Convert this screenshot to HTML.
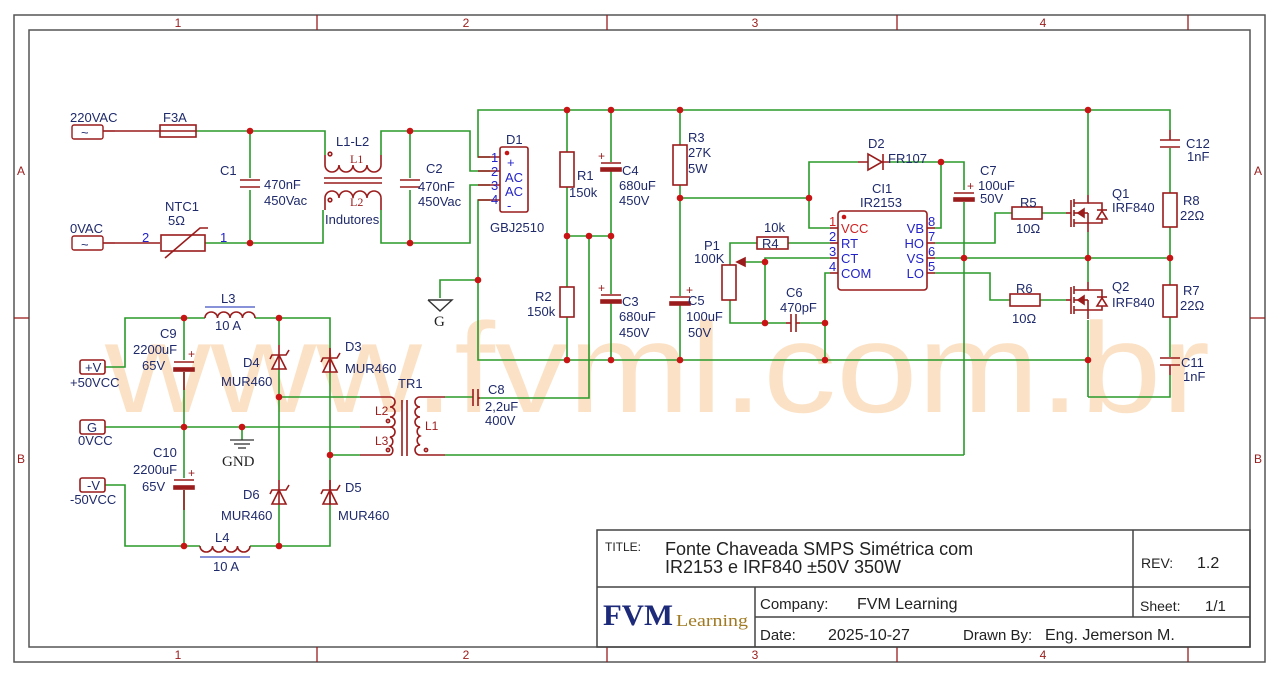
<!DOCTYPE html>
<html><head><meta charset="utf-8"><style>
html,body{margin:0;padding:0;background:#fff;}
svg{display:block;}
text{font-family:"Liberation Sans",sans-serif;}
.l{fill:#1f2a6b;font-size:13px;}
.p{fill:#2323c8;font-size:13px;}
.w{stroke:#2a9a2a;stroke-width:1.6;fill:none;}
.c{stroke:#9a1c1c;stroke-width:1.6;fill:none;}
.cf{stroke:#9a1c1c;stroke-width:1.6;fill:#fff;}
.n{fill:#c81414;}
.f{fill:#9a1c1c;font-size:12px;}
.t{font-family:"DejaVu Sans",sans-serif;fill:#222;}
</style></head><body>
<svg width="1280" height="677" viewBox="0 0 1280 677" xmlns="http://www.w3.org/2000/svg">
<!-- watermark -->
<text x="105" y="412" font-size="128" fill="#fbe2c6" style="font-family:'Liberation Sans',sans-serif" textLength="1105" lengthAdjust="spacingAndGlyphs">www.fvml.com.br</text>

<!-- frame -->
<rect x="14" y="15" width="1251" height="647" fill="none" stroke="#555" stroke-width="1.5"/>
<rect x="29" y="30" width="1221" height="617" fill="none" stroke="#555" stroke-width="1.5"/>
<g stroke="#9a1c1c" stroke-width="1.3">
<line x1="317" y1="15" x2="317" y2="30"/><line x1="607" y1="15" x2="607" y2="30"/><line x1="897" y1="15" x2="897" y2="30"/><line x1="1188" y1="15" x2="1188" y2="30"/>
<line x1="317" y1="647" x2="317" y2="662"/><line x1="607" y1="647" x2="607" y2="662"/><line x1="897" y1="647" x2="897" y2="662"/><line x1="1188" y1="647" x2="1188" y2="662"/>
<line x1="14" y1="318" x2="29" y2="318"/><line x1="1250" y1="318" x2="1265" y2="318"/>
</g>
<g class="f" font-size="12" text-anchor="middle">
<text x="178" y="27">1</text><text x="466" y="27">2</text><text x="755" y="27">3</text><text x="1043" y="27">4</text>
<text x="178" y="659">1</text><text x="466" y="659">2</text><text x="755" y="659">3</text><text x="1043" y="659">4</text>
<text x="21" y="175">A</text><text x="21" y="463">B</text><text x="1258" y="175">A</text><text x="1258" y="463">B</text>
</g>

<!-- ===== INPUT ===== -->
<g class="w">
<polyline points="196,131 325,131 325,155"/>
<polyline points="381,155 381,131 470,131 470,171 490,171"/>
<polyline points="205,243 323,243 323,210"/>
<polyline points="381,210 381,243 470,243 470,185 490,185"/>
<line x1="250" y1="131" x2="250" y2="178"/><line x1="250" y1="190" x2="250" y2="243"/>
<line x1="410" y1="131" x2="410" y2="178"/><line x1="410" y1="190" x2="410" y2="243"/>
<polyline points="490,157 478,157 478,110 1170,110 1170,130"/>
<polyline points="490,200 478,200 478,360 1088,360"/>
<polyline points="478,280 440,280 440,298"/>
</g>
<g class="c">
<line x1="103" y1="131" x2="115" y2="131"/><line x1="103" y1="243" x2="115" y2="243"/>
<line x1="115" y1="243" x2="160" y2="243"/>
<line x1="115" y1="131" x2="160" y2="131"/>
<rect x="160" y="125" width="36" height="12"/><line x1="160" y1="131" x2="196" y2="131"/>
<rect x="161" y="235" width="44" height="16"/><polyline points="165,258 200,228 208,228"/>
<line x1="240" y1="180" x2="260" y2="180"/><line x1="240" y1="187" x2="260" y2="187"/>
<line x1="400" y1="180" x2="420" y2="180"/><line x1="400" y1="187" x2="420" y2="187"/>
<path d="M325,155 v10 a7,7 0 0 0 14,0 a7,7 0 0 0 14,0 a7,7 0 0 0 14,0 a7,7 0 0 0 14,0 v-10"/>
<path d="M325,210 v-12 a7,7 0 0 1 14,0 a7,7 0 0 1 14,0 a7,7 0 0 1 14,0 a7,7 0 0 1 14,0 v12"/>
<line x1="324" y1="178" x2="382" y2="178"/><line x1="324" y1="183" x2="382" y2="183"/>
<rect x="500" y="147" width="28" height="65" rx="2"/>
<line x1="478" y1="157" x2="500" y2="157"/><line x1="478" y1="171" x2="500" y2="171"/><line x1="478" y1="185" x2="500" y2="185"/><line x1="478" y1="200" x2="500" y2="200"/>
<circle cx="330" cy="154" r="1.8"/><circle cx="330" cy="200" r="1.8"/>
</g>
<circle cx="507" cy="153" r="2.3" class="n"/>
<g stroke="#222" stroke-width="1.4" fill="none"><rect x="72" y="125" width="31" height="14" rx="2" stroke="#9a1c1c"/><rect x="72" y="236" width="31" height="14" rx="2" stroke="#9a1c1c"/>
<polyline points="428,300 452,300 440,311 428,300" stroke="#333"/></g>
<g class="l">
<text x="81" y="137">~</text><text x="81" y="249">~</text>
<text x="70" y="122">220VAC</text><text x="163" y="122">F3A</text><text x="70" y="233">0VAC</text>
<text x="165" y="211">NTC1</text><text x="168" y="225">5Ω</text>
<text x="220" y="175">C1</text><text x="264" y="189">470nF</text><text x="264" y="205">450Vac</text>
<text x="336" y="146">L1-L2</text><text x="325" y="224">Indutores</text>
<text x="426" y="173">C2</text><text x="418" y="191">470nF</text><text x="418" y="206">450Vac</text>
<text x="506" y="144">D1</text><text x="490" y="232">GBJ2510</text>
<text x="507" y="167" class="p">+</text><text x="505" y="182" class="p">AC</text><text x="505" y="196" class="p">AC</text><text x="507" y="210" class="p">-</text>
</g>
<g class="p"><text x="142" y="242">2</text><text x="220" y="242">1</text>
<text x="491" y="162">1</text><text x="491" y="176">2</text><text x="491" y="190">3</text><text x="491" y="204">4</text></g>
<text x="350" y="163" class="f" font-size="8" style="font-family:'Liberation Serif',serif">L1</text>
<text x="350" y="206" class="f" font-size="8" style="font-family:'Liberation Serif',serif">L2</text>
<text x="434" y="326" font-size="15" fill="#222" style="font-family:'Liberation Serif',serif">G</text>

<!-- ===== BULK / RAIL ===== -->
<g class="w">
<line x1="567" y1="110" x2="567" y2="152"/><line x1="567" y1="187" x2="567" y2="287"/><line x1="567" y1="317" x2="567" y2="360"/>
<line x1="611" y1="110" x2="611" y2="162"/><line x1="611" y1="170" x2="611" y2="294"/><line x1="611" y1="302" x2="611" y2="360"/>
<line x1="567" y1="236" x2="611" y2="236"/>
<polyline points="589,236 589,398 480,398"/>
<line x1="680" y1="110" x2="680" y2="145"/><line x1="680" y1="185" x2="680" y2="296"/><line x1="680" y1="304" x2="680" y2="360"/>
<polyline points="680,198 809,198 809,228 830,228"/>
<polyline points="809,198 809,162 858,162"/>
<polyline points="890,162 964,162 964,190"/>
<polyline points="941,162 941,228 935,228"/>
<line x1="964" y1="202" x2="964" y2="455"/>
</g>
<g class="c">
<rect x="560" y="152" width="14" height="35"/><rect x="560" y="287" width="14" height="30"/>
<line x1="601" y1="163" x2="621" y2="163"/><rect x="601" y="168" width="20" height="3" fill="#9a1c1c"/>
<line x1="601" y1="295" x2="621" y2="295"/><rect x="601" y="300" width="20" height="3" fill="#9a1c1c"/>
<rect x="673" y="145" width="14" height="40"/>
<line x1="670" y1="297" x2="690" y2="297"/><rect x="670" y="302" width="20" height="3" fill="#9a1c1c"/>
<line x1="954" y1="193" x2="974" y2="193"/><rect x="954" y="198" width="20" height="3" fill="#9a1c1c"/>
<line x1="858" y1="162" x2="890" y2="162"/><polygon points="868,154 868,170 882,162" fill="#fff"/><line x1="883" y1="154" x2="883" y2="170"/>
</g>
<g class="f" font-size="10"><text x="598" y="160">+</text><text x="598" y="292">+</text><text x="686" y="294">+</text><text x="967" y="190">+</text></g>
<g class="l">
<text x="577" y="180">R1</text><text x="569" y="197">150k</text><text x="535" y="301">R2</text><text x="527" y="316">150k</text>
<text x="622" y="175">C4</text><text x="619" y="190">680uF</text><text x="619" y="205">450V</text>
<text x="622" y="306">C3</text><text x="619" y="321">680uF</text><text x="619" y="337">450V</text>
<text x="688" y="142">R3</text><text x="688" y="157">27K</text><text x="688" y="173">5W</text>
<text x="688" y="305">C5</text><text x="686" y="321">100uF</text><text x="688" y="337">50V</text>
<text x="868" y="148">D2</text><text x="888" y="163">FR107</text>
<text x="980" y="175">C7</text><text x="978" y="190">100uF</text><text x="980" y="203">50V</text>
</g>

<!-- ===== IC ===== -->
<g class="w">
<polyline points="830,243 788,243"/><polyline points="757,243 730,243 730,265"/>
<polyline points="730,300 730,323 786,323"/>
<polyline points="830,258 765,258 765,323"/>
<line x1="740" y1="262" x2="765" y2="262"/>
<polyline points="800,323 825,323"/><polyline points="830,273 825,273 825,360"/>
<polyline points="935,243 995,243 995,213 1012,213"/><line x1="1042" y1="213" x2="1066" y2="213"/>
<polyline points="935,258 1170,258"/>
<polyline points="935,273 990,273 990,300 1010,300"/><line x1="1040" y1="300" x2="1066" y2="300"/>
</g>
<g class="c">
<rect x="838" y="211" width="89" height="79" rx="3"/>
<line x1="830" y1="228" x2="838" y2="228"/><line x1="830" y1="243" x2="838" y2="243"/><line x1="830" y1="258" x2="838" y2="258"/><line x1="830" y1="273" x2="838" y2="273"/>
<line x1="927" y1="228" x2="935" y2="228"/><line x1="927" y1="243" x2="935" y2="243"/><line x1="927" y1="258" x2="935" y2="258"/><line x1="927" y1="273" x2="935" y2="273"/>
<rect x="757" y="237" width="31" height="12"/>
<rect x="722" y="265" width="14" height="35"/><polygon points="737,262 745,258 745,266" fill="#9a1c1c"/>
<line x1="786" y1="323" x2="791" y2="323"/><line x1="791" y1="314" x2="791" y2="332"/><line x1="796" y1="314" x2="796" y2="332"/><line x1="796" y1="323" x2="800" y2="323"/>
<rect x="1012" y="207" width="30" height="12"/><rect x="1010" y="294" width="30" height="12"/>
</g>
<circle cx="844" cy="217" r="2.3" class="n"/>
<g class="l">
<text x="872" y="193">CI1</text><text x="860" y="207">IR2153</text>
<text x="841" y="233" fill="#d02020">VCC</text><text x="841" y="248" class="p">RT</text><text x="841" y="263" class="p">CT</text><text x="841" y="278" class="p">COM</text>
<text x="924" y="233" class="p" text-anchor="end">VB</text><text x="924" y="248" class="p" text-anchor="end">HO</text><text x="924" y="263" class="p" text-anchor="end">VS</text><text x="924" y="278" class="p" text-anchor="end">LO</text>
<text x="764" y="232">10k</text><text x="762" y="248">R4</text>
<text x="704" y="250">P1</text><text x="694" y="263">100K</text>
<text x="786" y="297">C6</text><text x="780" y="312">470pF</text>
<text x="1020" y="207">R5</text><text x="1016" y="233">10Ω</text>
<text x="1016" y="293">R6</text><text x="1012" y="323">10Ω</text>
</g>
<g class="p"><text x="829" y="226" fill="#d02020">1</text><text x="829" y="241">2</text><text x="829" y="256">3</text><text x="829" y="271">4</text>
<text x="928" y="226">8</text><text x="928" y="241">7</text><text x="928" y="256">6</text><text x="928" y="271">5</text></g>

<!-- ===== MOSFETS ===== -->
<g class="w">
<line x1="1088" y1="110" x2="1088" y2="195"/><line x1="1088" y1="232" x2="1088" y2="282"/><line x1="1088" y1="320" x2="1088" y2="397"/>
<polyline points="1088,397 1170,397 1170,375"/>
<line x1="1170" y1="148" x2="1170" y2="193"/><line x1="1170" y1="227" x2="1170" y2="285"/><line x1="1170" y1="317" x2="1170" y2="357"/>
</g>
<g class="c">
<g id="q1">
<line x1="1066" y1="213" x2="1071" y2="213"/><line x1="1071" y1="200" x2="1071" y2="227"/>
<line x1="1074" y1="199" x2="1074" y2="207"/><line x1="1074" y1="210" x2="1074" y2="216"/><line x1="1074" y1="219" x2="1074" y2="227"/>
<polyline points="1074,203 1088,203 1088,195"/><polyline points="1074,223 1088,223 1088,232"/><line x1="1074" y1="213" x2="1088" y2="213"/><line x1="1088" y1="213" x2="1088" y2="223"/>
<polygon points="1078,213 1084,209 1084,217" fill="#9a1c1c"/>
<polyline points="1088,203 1102,203 1102,223 1088,223"/><polygon points="1097,219 1107,219 1102,211" fill="#fff"/><line x1="1097" y1="210" x2="1107" y2="210"/>
</g>
<use href="#q1" y="87"/>
<line x1="1160" y1="140" x2="1180" y2="140"/><line x1="1160" y1="147" x2="1180" y2="147"/><line x1="1170" y1="130" x2="1170" y2="140"/>
<rect x="1163" y="193" width="14" height="34"/><rect x="1163" y="285" width="14" height="32"/>
<line x1="1160" y1="358" x2="1180" y2="358"/><line x1="1160" y1="365" x2="1180" y2="365"/><line x1="1170" y1="365" x2="1170" y2="375"/>
</g>
<g class="l">
<text x="1112" y="198">Q1</text><text x="1112" y="212">IRF840</text><text x="1112" y="291">Q2</text><text x="1112" y="307">IRF840</text>
<text x="1186" y="148">C12</text><text x="1187" y="161">1nF</text><text x="1183" y="205">R8</text><text x="1180" y="220">22Ω</text>
<text x="1183" y="295">R7</text><text x="1180" y="310">22Ω</text><text x="1181" y="367">C11</text><text x="1183" y="381">1nF</text>
</g>

<!-- ===== OUTPUT ===== -->
<g class="w">
<polyline points="105,367 125,367 125,318 205,318"/><polyline points="255,318 330,318 330,350"/>
<line x1="184" y1="318" x2="184" y2="360"/><line x1="184" y1="372" x2="184" y2="478"/><line x1="184" y1="490" x2="184" y2="546"/>
<polyline points="105,485 125,485 125,546 200,546"/><polyline points="250,546 330,546 330,505"/>
<line x1="105" y1="427" x2="360" y2="427"/><polyline points="242,427 242,440"/>
<line x1="279" y1="318" x2="279" y2="345"/><line x1="279" y1="368" x2="279" y2="480"/><line x1="279" y1="503" x2="279" y2="546"/>
<line x1="330" y1="372" x2="330" y2="480"/>
<polyline points="279,397 360,397"/><polyline points="330,455 360,455"/>
<polyline points="445,397 473,397"/><polyline points="445,455 964,455"/>
</g>
<g class="c">
<rect x="80" y="360" width="25" height="14" rx="2"/><rect x="80" y="420" width="25" height="14" rx="2"/><rect x="80" y="478" width="25" height="14" rx="2"/>
<path d="M205,318 a6.25,6 0 0 1 12.5,0 a6.25,6 0 0 1 12.5,0 a6.25,6 0 0 1 12.5,0 a6.25,6 0 0 1 12.5,0"/>
<path d="M200,546 a6.25,6 0 0 0 12.5,0 a6.25,6 0 0 0 12.5,0 a6.25,6 0 0 0 12.5,0 a6.25,6 0 0 0 12.5,0"/>
<line x1="174" y1="362" x2="194" y2="362"/><rect x="174" y="368" width="20" height="3" fill="#9a1c1c"/>
<line x1="174" y1="480" x2="194" y2="480"/><rect x="174" y="486" width="20" height="3" fill="#9a1c1c"/>
<line x1="184" y1="372" x2="184" y2="390"/><line x1="184" y1="490" x2="184" y2="510"/>
<!-- diodes (cathode up) -->
<g id="dz"><polygon points="272,369 286,369 279,355" fill="#fff"/><polyline points="270,359 272,355 286,355 289,350"/><line x1="279" y1="345" x2="279" y2="369"/></g>
<use href="#dz" x="51" y="3"/><use href="#dz" y="135"/><use href="#dz" x="51" y="135"/>
<line x1="330" y1="350" x2="330" y2="372"/><line x1="330" y1="480" x2="330" y2="505"/>
<line x1="360" y1="397" x2="390" y2="397"/><line x1="360" y1="427" x2="390" y2="427"/><line x1="360" y1="455" x2="390" y2="455"/>
<path d="M390,397 a5,5 0 0 1 0,10 a5,5 0 0 1 0,10 a5,5 0 0 1 0,10"/>
<path d="M390,427 a5,5 0 0 1 0,10 a5,5 0 0 1 0,9 a5,5 0 0 1 0,9"/>
<line x1="402" y1="400" x2="402" y2="456"/><line x1="407" y1="400" x2="407" y2="456"/>
<path d="M420,397 a5,5 0 0 0 0,10 a5,5 0 0 0 0,10 a5,5 0 0 0 0,10 a5,5 0 0 0 0,9 a5,5 0 0 0 0,9 a5,5 0 0 0 0,10"/>
<line x1="420" y1="397" x2="445" y2="397"/><line x1="420" y1="455" x2="445" y2="455"/>
<circle cx="388" cy="421" r="1.6"/><circle cx="388" cy="450" r="1.6"/><circle cx="426" cy="450" r="1.6"/>
<line x1="473" y1="389" x2="473" y2="406"/><line x1="478" y1="389" x2="478" y2="406"/><line x1="478" y1="398" x2="480" y2="398"/>
</g>
<g stroke="#333" stroke-width="1.3"><line x1="230" y1="440" x2="254" y2="440"/><line x1="234" y1="444" x2="250" y2="444"/><line x1="238" y1="448" x2="246" y2="448"/></g>
<line x1="205" y1="307" x2="255" y2="307" stroke="#4050c0" stroke-width="1.3"/>
<line x1="200" y1="557" x2="250" y2="557" stroke="#4050c0" stroke-width="1.3"/>
<g class="f" font-size="10"><text x="188" y="358">+</text><text x="188" y="477">+</text></g>
<g class="l">
<text x="85" y="372">+V</text><text x="87" y="432">G</text><text x="87" y="490">-V</text>
<text x="70" y="387">+50VCC</text><text x="78" y="445">0VCC</text><text x="70" y="504">-50VCC</text>
<text x="221" y="303">L3</text><text x="215" y="330">10 A</text><text x="215" y="542">L4</text><text x="213" y="571">10 A</text>
<text x="160" y="338">C9</text><text x="133" y="354">2200uF</text><text x="142" y="370">65V</text>
<text x="153" y="457">C10</text><text x="133" y="474">2200uF</text><text x="142" y="491">65V</text>
<text x="243" y="367">D4</text><text x="221" y="386">MUR460</text><text x="345" y="351">D3</text><text x="345" y="373">MUR460</text>
<text x="243" y="499">D6</text><text x="221" y="520">MUR460</text><text x="345" y="492">D5</text><text x="338" y="520">MUR460</text>
<text x="398" y="388">TR1</text><text x="488" y="394">C8</text><text x="485" y="411">2,2uF</text><text x="485" y="425">400V</text>
</g>
<text x="222" y="466" font-size="15" fill="#222" style="font-family:'Liberation Serif',serif">GND</text>
<g class="f" font-size="8" style="font-family:'Liberation Serif',serif"><text x="375" y="415">L2</text><text x="375" y="445">L3</text><text x="425" y="430">L1</text></g>

<!-- nodes -->
<g class="n">
<circle cx="250" cy="131" r="3.3"/><circle cx="250" cy="243" r="3.3"/><circle cx="410" cy="131" r="3.3"/><circle cx="410" cy="243" r="3.3"/>
<circle cx="478" cy="280" r="3.3"/><circle cx="567" cy="110" r="3.3"/><circle cx="611" cy="110" r="3.3"/><circle cx="680" cy="110" r="3.3"/><circle cx="1088" cy="110" r="3.3"/>
<circle cx="567" cy="236" r="3.3"/><circle cx="589" cy="236" r="3.3"/><circle cx="611" cy="236" r="3.3"/>
<circle cx="567" cy="360" r="3.3"/><circle cx="611" cy="360" r="3.3"/><circle cx="680" cy="360" r="3.3"/><circle cx="825" cy="360" r="3.3"/><circle cx="1088" cy="360" r="3.3"/>
<circle cx="680" cy="198" r="3.3"/><circle cx="809" cy="198" r="3.3"/><circle cx="941" cy="162" r="3.3"/>
<circle cx="765" cy="262" r="3.3"/><circle cx="765" cy="323" r="3.3"/><circle cx="825" cy="323" r="3.3"/>
<circle cx="964" cy="258" r="3.3"/><circle cx="1088" cy="258" r="3.3"/><circle cx="1170" cy="258" r="3.3"/>
<circle cx="184" cy="318" r="3.3"/><circle cx="279" cy="318" r="3.3"/><circle cx="184" cy="427" r="3.3"/><circle cx="242" cy="427" r="3.3"/>
<circle cx="279" cy="397" r="3.3"/><circle cx="330" cy="455" r="3.3"/><circle cx="184" cy="546" r="3.3"/><circle cx="279" cy="546" r="3.3"/>
</g>

<!-- title block -->
<g fill="none" stroke="#444" stroke-width="1.5">
<rect x="597" y="530" width="653" height="117"/>
<line x1="597" y1="587" x2="1250" y2="587"/><line x1="755" y1="617" x2="1250" y2="617"/>
<line x1="1133" y1="530" x2="1133" y2="617"/><line x1="755" y1="587" x2="755" y2="647"/>
</g>
<g class="t">
<text x="605" y="551" font-size="12">TITLE:</text>
<text x="665" y="555" font-size="18">Fonte Chaveada SMPS Simétrica com</text>
<text x="665" y="573" font-size="18">IR2153 e IRF840 ±50V 350W</text>
<text x="1141" y="568" font-size="14">REV:</text><text x="1197" y="568" font-size="16">1.2</text>
<text x="760" y="609" font-size="15">Company:</text><text x="857" y="609" font-size="16">FVM Learning</text>
<text x="1140" y="611" font-size="14">Sheet:</text><text x="1205" y="611" font-size="15">1/1</text>
<text x="760" y="640" font-size="15">Date:</text><text x="828" y="640" font-size="16">2025-10-27</text>
<text x="963" y="640" font-size="15">Drawn By:</text><text x="1045" y="640" font-size="16">Eng. Jemerson M.</text>
</g>
<text x="603" y="625" font-size="30" font-weight="bold" fill="#1d2a7a" style="font-family:'Liberation Serif',serif" textLength="70" lengthAdjust="spacingAndGlyphs">FVM</text>
<text x="676" y="626" font-size="17" fill="#a07a22" style="font-family:'Liberation Serif',serif" textLength="72" lengthAdjust="spacingAndGlyphs">Learning</text>
</svg>
</body></html>
